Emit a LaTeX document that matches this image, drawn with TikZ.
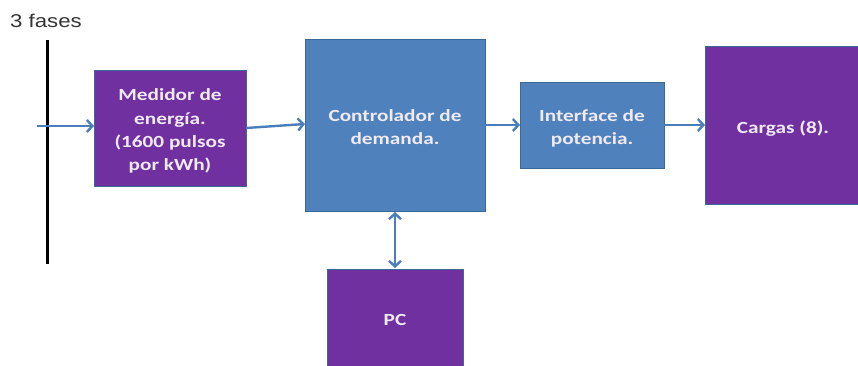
\documentclass[tikz,border=0pt]{standalone}
\usepackage{fontspec}
\setmainfont{Carlito}
\newfontfamily\arialf{Liberation Sans}
\usetikzlibrary{arrows.meta}
\definecolor{cpurple}{HTML}{7030A0}
\definecolor{cblue}{HTML}{4F81BD}
\definecolor{cedge}{HTML}{3C6897}
\definecolor{carrow}{HTML}{4A7EBB}
\definecolor{ctext}{HTML}{F0EAF5}
\newcommand\wtxt[1]{\scalebox{1.25}[1]{\begin{tabular}{@{}c@{}}#1\end{tabular}}}
\tikzset{
  blk/.style={draw=cedge, line width=0.8pt, inner sep=0pt, text=ctext, font=\bfseries\fontsize{17}{23.3}\selectfont, align=center},
  pbox/.style={blk, fill=cpurple},
  bbox/.style={blk, fill=cblue},
  conn/.style={draw=carrow, line width=2.4pt, -{Straight Barb[length=5.5pt,width=12pt,line width=2.4pt]}},
  bconn/.style={conn, {Straight Barb[length=5.5pt,width=12pt,line width=2.4pt]}-{Straight Barb[length=5.5pt,width=12pt,line width=2.4pt]}}
}
\begin{document}
\begin{tikzpicture}[x=1pt,y=-1pt]
\useasboundingbox (0,0) rectangle (858,366);
\node[font=\arialf\fontsize{18.5}{20}\selectfont, text=black!80, anchor=west, inner sep=0pt] (fases) at (10,21) {\scalebox{1.2}[1]{3 fases}};
\coordinate (bt) at (47,40);
\coordinate (bb) at (47,264);
\draw[line width=3pt, black] (bt) -- (bb);
\coordinate (in) at (37,126);
\path[pbox] (94,70) rectangle (246,186);
\node[pbox, draw=none, fill=none] (med) at (170,131) {\wtxt{Medidor de\\energía.\\(1600 pulsos\\por kWh)}};
\path[bbox] (305,39) rectangle (485,211);
\node[bbox, draw=none, fill=none] (ctl) at (395,128) {\wtxt{Controlador de\\demanda.}};
\path[bbox] (520,82) rectangle (664,168);
\node[bbox, draw=none, fill=none] (itf) at (592,128) {\wtxt{Interface de\\potencia.}};
\path[pbox] (705,46) rectangle (858,204);
\node[pbox, draw=none, fill=none] (car) at (783,129) {\wtxt{Cargas (8).}};
\path[pbox] (327,269) rectangle (463,366);
\node[pbox, draw=none, fill=none] (pc) at (395,321) {\wtxt{PC}};
\draw[conn] (in) -- (94,126);
\draw[conn] (246,128) -- (305,124);
\draw[conn] (485,125) -- (520,125);
\draw[conn] (664,125) -- (705,125);
\draw[bconn] (395,212) -- (395,268);
\end{tikzpicture}
\end{document}
